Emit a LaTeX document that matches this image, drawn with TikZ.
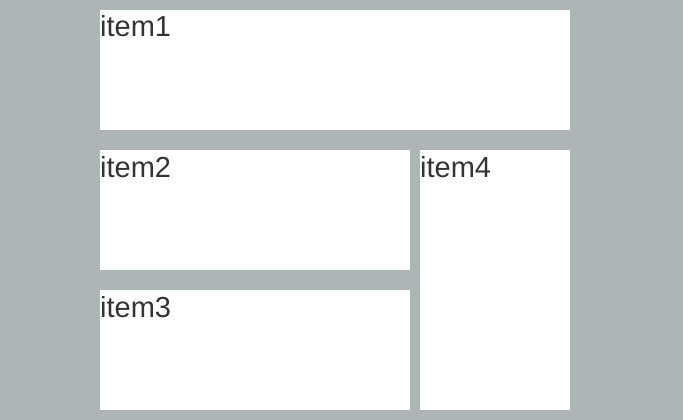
\documentclass[tikz,border=0pt]{standalone}
\usepackage{fontspec}
\setmainfont{Liberation Sans}
\definecolor{bg}{HTML}{AEB5B7}
\definecolor{txt}{HTML}{333333}
\begin{document}
\begin{tikzpicture}[x=1pt,y=-1pt,
  item/.style={fill=white,draw=none},
  lbl/.style={anchor=base west,inner sep=0pt,text=txt,font=\fontsize{29}{33}\selectfont}]
\fill[bg] (0,0) rectangle (683,420);
\useasboundingbox (0,0) rectangle (683,420);
\fill[item] (100,10) rectangle (570,130);
\fill[item] (100,150) rectangle (410,270);
\fill[item] (100,290) rectangle (410,410);
\fill[item] (420,150) rectangle (570,410);
\node[lbl] (l1) at (100,37) {item1};
\node[lbl] (l2) at (100,177) {item2};
\node[lbl] (l3) at (100,317) {item3};
\node[lbl] (l4) at (420,177) {item4};
\end{tikzpicture}
\end{document}
